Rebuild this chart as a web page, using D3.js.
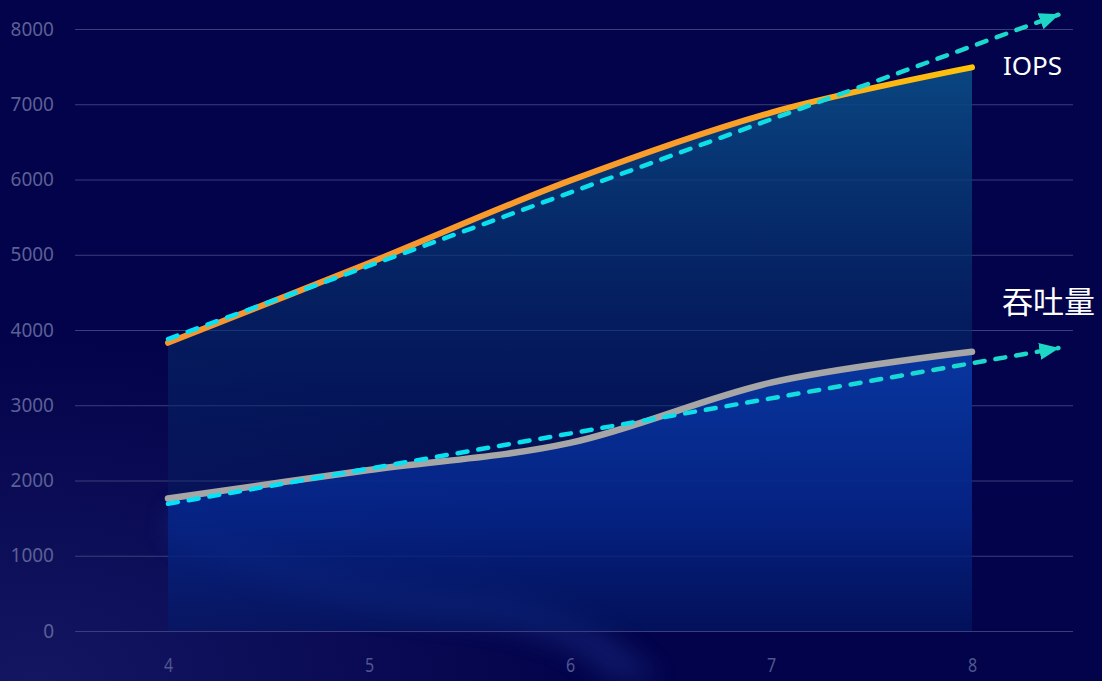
<!DOCTYPE html>
<html>
<head>
<meta charset="utf-8">
<script src="https://cdn.jsdelivr.net/npm/d3@7"></script>
<style>
  html, body { margin: 0; padding: 0; background: #02034a; }
  svg { display: block; }
</style>
</head>
<body>
<svg id="svg" width="1102" height="681"></svg>
<script>
// values
var categories = [4, 5, 6, 7, 8];
var iops = [3830, 4890, 5985, 6890, 7490];
var throughput = [1760, 2140, 2500, 3300, 3710];
var yTicks = [0, 1000, 2000, 3000, 4000, 5000, 6000, 7000, 8000];
// trend lines: start / arrow tip
var iopsTrendX = [4, 8.43];
var iopsTrendY = [3880, 8190];
var throughputTrendX = [4, 8.43];
var throughputTrendY = [1690, 3760];
var seriesNames = ["IOPS", "吞吐量"];

var svg = d3.select("#svg");
var W = 1102, H = 681;

var x = d3.scaleLinear().domain([4, 8]).range([168, 972]);
var y = d3.scaleLinear().domain([0, 8000]).range([631, 29]);

var defs = svg.append("defs");

function linGrad(id, x1, y1, x2, y2, stops) {
  var g = defs.append("linearGradient").attr("id", id)
    .attr("gradientUnits", "userSpaceOnUse")
    .attr("x1", x1).attr("y1", y1).attr("x2", x2).attr("y2", y2);
  stops.forEach(function (s) {
    g.append("stop").attr("offset", s[0]).attr("stop-color", s[1])
      .attr("stop-opacity", s[2] == null ? 1 : s[2]);
  });
  return g;
}

// background glow, bottom left
var bg = defs.append("radialGradient").attr("id", "bgGlow")
  .attr("cx", 0.03).attr("cy", 1.0).attr("r", 0.5);
bg.append("stop").attr("offset", 0).attr("stop-color", "#1b1c6a").attr("stop-opacity", 0.75);
bg.append("stop").attr("offset", 1).attr("stop-color", "#1b1c6a").attr("stop-opacity", 0);

defs.append("filter").attr("id", "blur").append("feGaussianBlur").attr("stdDeviation", 12);

linGrad("iopsArea", 0, y(7600), 0, y(0), [
  [0, "#0a4c86", 0.95], [0.45, "#062e6c", 0.6], [1, "#041a5a", 0.15]
]);
linGrad("tpArea", 0, y(3800), 0, y(0), [
  [0, "#0837a0", 1], [0.6, "#05258a", 0.85], [1, "#041a6a", 0.5]
]);
linGrad("iopsLine", x(4), 0, x(8), 0, [
  [0, "#f7942f"], [0.7, "#fa9e28"], [1, "#ffc308"]
]);
linGrad("trendLine", x(4), 0, x(8.43), 0, [
  [0, "#05e2f8"], [0.6, "#0ddfe8"], [1, "#1fd6c4"]
]);

defs.append("marker").attr("id", "arrow")
  .attr("markerUnits", "userSpaceOnUse")
  .attr("viewBox", "0 0 20 17")
  .attr("markerWidth", 20).attr("markerHeight", 17)
  .attr("refX", 19).attr("refY", 8.5)
  .attr("orient", "auto")
  .append("path").attr("d", "M0,0 L20,8.5 L0,17 Z").attr("fill", "#1ed6c6");

// background
svg.append("rect").attr("width", W).attr("height", H).attr("fill", "#02034a");
svg.append("rect").attr("width", W).attr("height", H).attr("fill", "url(#bgGlow)");
svg.append("path")
  .attr("d", "M170,505 C280,560 380,585 480,590 C560,600 620,630 660,681 L610,681 C570,640 510,625 440,620 C340,610 240,580 170,540 Z")
  .attr("fill", "#2c44a8").attr("opacity", 0.3).attr("filter", "url(#blur)");

// grid + y labels
var yAxis = svg.append("g").attr("transform", "translate(75,0)")
  .call(d3.axisLeft(y).tickValues(yTicks).tickSize(-998).tickPadding(21).tickFormat(d3.format("d")));
yAxis.select(".domain").remove();
yAxis.selectAll(".tick line").attr("stroke", "#3a3f7c").attr("stroke-width", 1);
yAxis.selectAll(".tick text").attr("fill", "#5b6095")
  .style("font-family", "'Noto Sans', sans-serif").style("font-size", "19px");

// x labels
var xAxis = svg.append("g").attr("transform", "translate(0," + y(0) + ")")
  .call(d3.axisBottom(x).tickValues(categories).tickSize(0).tickPadding(27).tickFormat(d3.format("d")));
xAxis.select(".domain").remove();
xAxis.selectAll(".tick text").attr("fill", "#4f5690")
  .attr("transform", "scale(0.8,1)")
  .style("font-family", "'Noto Sans', sans-serif").style("font-size", "20px");

var curve = d3.curveCardinal.tension(0);

function areaFor(vals) {
  return d3.area().curve(curve)
    .x(function (d, i) { return x(categories[i]); })
    .y0(y(0))
    .y1(function (d) { return y(d); })(vals);
}
function lineFor(vals) {
  return d3.line().curve(curve)
    .x(function (d, i) { return x(categories[i]); })
    .y(function (d) { return y(d); })(vals);
}

svg.append("path").attr("d", areaFor(iops)).attr("fill", "url(#iopsArea)");
svg.append("path").attr("d", areaFor(throughput)).attr("fill", "url(#tpArea)");

svg.append("path").attr("d", lineFor(iops))
  .attr("fill", "none").attr("stroke", "url(#iopsLine)")
  .attr("stroke-width", 6).attr("stroke-linecap", "round");
svg.append("path").attr("d", lineFor(throughput))
  .attr("fill", "none").attr("stroke", "#a6a6a6")
  .attr("stroke-width", 6.5).attr("stroke-linecap", "round");

function trend(xs, ys) {
  svg.append("line")
    .attr("x1", x(xs[0])).attr("y1", y(ys[0]))
    .attr("x2", x(xs[1])).attr("y2", y(ys[1]))
    .attr("stroke", "url(#trendLine)").attr("stroke-width", 4.5)
    .attr("stroke-dasharray", "10,11").attr("stroke-linecap", "round")
    .attr("marker-end", "url(#arrow)");
}
trend(iopsTrendX, iopsTrendY);
trend(throughputTrendX, throughputTrendY);

// series labels
svg.append("text").attr("x", x(8) + 31).attr("y", 75)
  .text(seriesNames[0]).attr("fill", "#ffffff")
  .style("font-family", "'Noto Sans', sans-serif").style("font-size", "26px");
svg.append("text").attr("x", x(8) + 30).attr("y", 313)
  .text(seriesNames[1]).attr("fill", "#ffffff")
  .style("font-family", "'Noto Sans CJK SC', sans-serif").style("font-size", "31px");
</script>
</body>
</html>
